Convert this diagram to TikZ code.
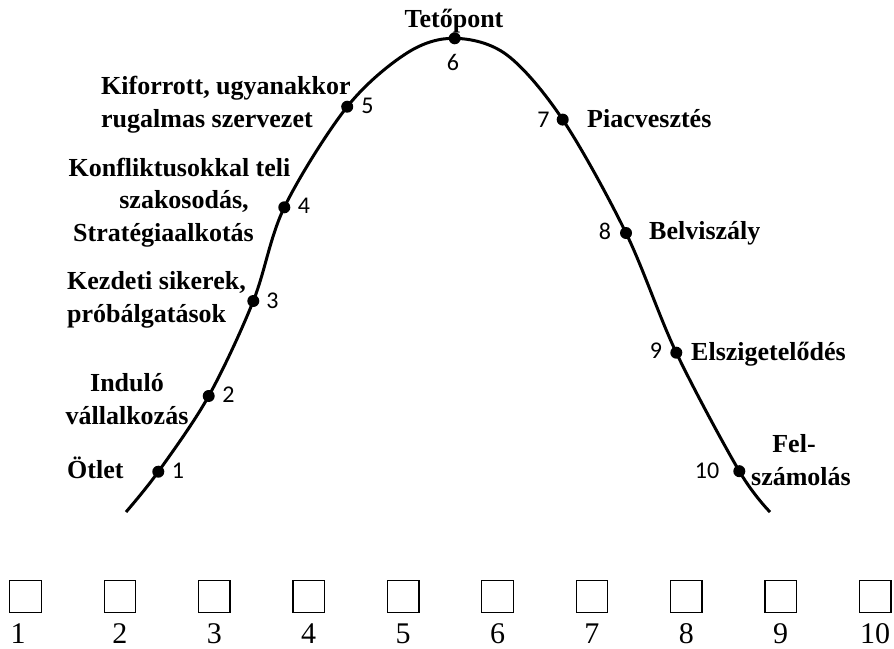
\documentclass[tikz,border=0pt]{standalone}
\usepackage{fontspec}
\setmainfont{Liberation Serif}
\newfontfamily\numfont{Carlito}
\begin{document}
\begin{tikzpicture}[x=1pt,y=-1pt,
  stage/.style={inner sep=0pt, font=\fontsize{26}{32.5}\selectfont\bfseries},
  idx/.style={inner sep=0pt, anchor=base, font=\numfont\fontsize{24}{28}\selectfont},
  dot/.style={circle, fill=black, inner sep=0pt, minimum size=12pt},
  cell/.style={draw, line width=1.3pt, inner sep=0pt, minimum size=31.5pt},
  cellnum/.style={inner sep=0pt, anchor=base, font=\fontsize{30}{34}\selectfont},
  life/.style={line width=3pt, line cap=butt, line join=round}]
\useasboundingbox (0,0) rectangle (894,648);

% stage points of the life-cycle curve
\coordinate (c1)  at (158.3,471.7);
\coordinate (c2)  at (208.7,396);
\coordinate (c3)  at (253.3,301);
\coordinate (c4)  at (284.3,207.3);
\coordinate (c5)  at (347.2,106.7);
\coordinate (c6)  at (454.7,38.3);
\coordinate (c7)  at (562.7,119.6);
\coordinate (c8)  at (626,233);
\coordinate (c9)  at (676.3,352.7);
\coordinate (c10) at (739.3,471.2);
% free ends and shaping points near the top
\coordinate (s0)  at (126,512);
\coordinate (sa)  at (407,53);
\coordinate (sb)  at (507,55);
\coordinate (s1)  at (770,512);

\draw[life] plot[smooth, tension=0.55] coordinates
  {(s0) (c1) (c2) (c3) (c4) (c5) (sa) (c6) (sb) (c7) (c8) (c9) (c10) (s1)};

\foreach \i in {1,...,10} { \node[dot] (d\i) at (c\i) {}; }

% stage numbers beside the dots
\node[idx] (n1)  at (178,478)   {1};
\node[idx] (n2)  at (228.5,402) {2};
\node[idx] (n3)  at (272.5,308) {3};
\node[idx] (n4)  at (304,213)   {4};
\node[idx] (n5)  at (367.5,113) {5};
\node[idx] (n6)  at (453,70)    {6};
\node[idx] (n7)  at (543.5,127) {7};
\node[idx] (n8)  at (605,239)   {8};
\node[idx] (n9)  at (656,358)   {9};
\node[idx] (n10) at (707,478)   {10};

% stage names (multi-line names are anchored at their last line)
\node[stage, anchor=base] (l6) at (454,27) {Tetőpont};
\node[stage, anchor=base west, align=left] (l5) at (101,127)
  {Kiforrott, ugyanakkor\\rugalmas szervezet};
\node[stage, anchor=base, align=center] (l4) at (179.5,241)
  {Konfliktusokkal teli\\\hspace*{9pt}szakosodás,\\Stratégiaalkotás\hspace*{32pt}};
\node[stage, anchor=base west, align=left] (l3) at (67,322)
  {Kezdeti sikerek,\\próbálgatások};
\node[stage, anchor=base, align=center] (l2) at (127,424)
  {Induló\\vállalkozás};
\node[stage, anchor=base west] (l1) at (67,478) {Ötlet};
\node[stage, anchor=base west] (l7) at (587,127) {Piacvesztés};
\node[stage, anchor=base west] (l8) at (649,239) {Belviszály};
\node[stage, anchor=base west] (l9) at (691,360) {Elszigetelődés};
\node[stage, anchor=base, align=center] (l10) at (801,485)
  {Fel-\hspace*{14pt}\\számolás};

% row of answer boxes
\foreach \i in {1,...,10} {
  \pgfmathsetmacro{\cx}{25.5+94.4*(\i-1)}
  \node[cell] (b\i) at (\cx,596.5) {};
}
\node[cellnum] (m1) at (18,643) {1};
\foreach \i in {2,...,10} {
  \pgfmathsetmacro{\cx}{25.5+94.4*(\i-1)}
  \node[cellnum] (m\i) at (\cx,643) {\i};
}
\end{tikzpicture}
\end{document}
